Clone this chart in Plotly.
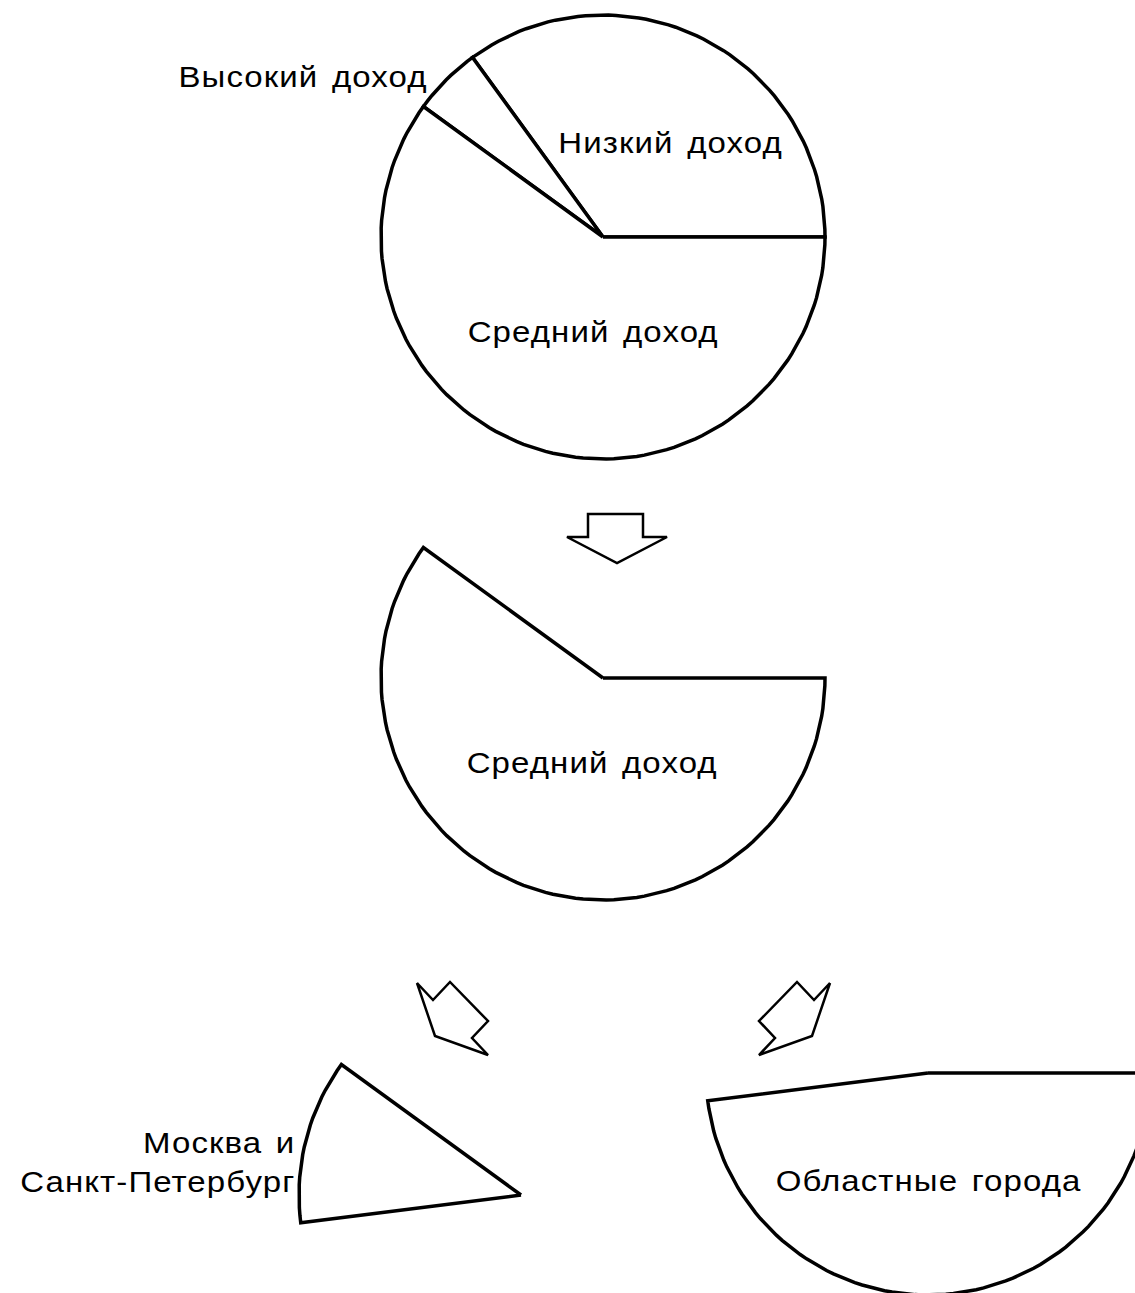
import math
import plotly.graph_objects as go

# ---------------- data ----------------
income_groups = ["Низкий доход", "Высокий доход", "Средний доход"]
income_shares = [35, 5, 60]                 # % of households
middle_groups = ["Москва и<br>Санкт-Петербург", "Областные города"]
middle_shares = [12, 48]                    # split of "Средний доход", % of households

# ---------------- layout geometry (pixels) ----------------
W, H = 1135, 1293
R = 222
TOP_C = (603, 237)      # full pie
MID_C = (603, 678)      # middle-income slice alone
MSK_C = (521, 1195)     # Moscow & St Petersburg piece
REG_C = (928, 1073)     # regional cities piece
DEG_PER_PCT = 360 / 100

LINE_W = 3.5
FONT = dict(family="Liberation Sans, Arial, sans-serif", size=30, color="black")
TEXT_STRETCH = 1.1      # the original labels are horizontally widened


def wedge(c, r, a0, a1, step=2.0):
    n = max(2, int(abs(a1 - a0) / step) + 1)
    xs, ys = [c[0]], [c[1]]
    for i in range(n + 1):
        a = math.radians(a0 + (a1 - a0) * i / n)
        xs.append(c[0] + r * math.cos(a))
        ys.append(c[1] - r * math.sin(a))
    xs.append(c[0])
    ys.append(c[1])
    return xs, ys


def add_wedge(fig, c, a0, a1):
    xs, ys = wedge(c, R, a0, a1)
    fig.add_trace(go.Scatter(x=xs, y=ys, mode="lines", fill="toself",
                             fillcolor="white",
                             line=dict(color="black", width=LINE_W),
                             hoverinfo="skip", showlegend=False))


fig = go.Figure()

# cumulative angles of the income pie
bounds = [0]
for s in income_shares:
    bounds.append(bounds[-1] + s * DEG_PER_PCT)

# top: full pie
for i in range(len(income_shares)):
    add_wedge(fig, TOP_C, bounds[i], bounds[i + 1])

# middle: only the middle-income slice
mid_a0, mid_a1 = bounds[2], bounds[3]
add_wedge(fig, MID_C, mid_a0, mid_a1)

# bottom: middle-income slice split into two pieces
split = mid_a0 + middle_shares[0] * DEG_PER_PCT
add_wedge(fig, MSK_C, mid_a0, split)
add_wedge(fig, REG_C, split, mid_a0 + (middle_shares[0] + middle_shares[1]) * DEG_PER_PCT)

# ---------------- block arrows (decoration) ----------------
down_arrow = [(588, 514), (643, 514), (643, 537), (667, 537), (617, 563), (567, 537), (588, 537)]
left_arrow = [(417, 983), (433, 1000), (450, 982), (488, 1021), (472, 1038), (488, 1055), (435, 1036)]
MIRROR_X = 623.5
right_arrow = [(2 * MIRROR_X - x, y) for x, y in left_arrow]


def path(pts):
    return "M " + " L ".join(f"{x},{y}" for x, y in pts) + " Z"


shapes = [dict(type="path", xref="x", yref="y", path=path(p), fillcolor="white",
               line=dict(color="black", width=2.5))
          for p in (down_arrow, left_arrow, right_arrow)]

# ---------------- labels ----------------
annotations = [
    dict(text=income_groups[1], x=430, y=76, xanchor="right", align="right"),
    dict(text=income_groups[0], x=670, y=142, xanchor="center"),
    dict(text=income_groups[2], x=593, y=331, xanchor="center"),
    dict(text=income_groups[2], x=592, y=762, xanchor="center"),
    dict(text=middle_groups[0], x=297, y=1162, xanchor="right", align="right"),
    dict(text=middle_groups[1], x=928, y=1180, xanchor="center"),
]
for a in annotations:
    a.update(xref="x", yref="y", yanchor="middle", showarrow=False, font=FONT)

fig.update_layout(
    width=W, height=H,
    margin=dict(l=0, r=0, t=0, b=0),
    paper_bgcolor="white", plot_bgcolor="white",
    xaxis=dict(range=[0, W], visible=False, fixedrange=True),
    yaxis=dict(range=[H, 0], visible=False, fixedrange=True),
    shapes=shapes, annotations=annotations, showlegend=False,
)

css = ("body{margin:0;overflow:hidden}"
       ".annotation-text{letter-spacing:1px;word-spacing:3px;"
       "transform-box:fill-box;transform-origin:center;"
       f"transform:scaleX({TEXT_STRETCH})}}"
       ".annotation[data-index='0'] .annotation-text,"
       ".annotation[data-index='4'] .annotation-text{transform-origin:right center}")
post = ("document.body.style.margin='0';"
        "var s=document.createElement('style');"
        f"s.textContent=\"{css}\";"
        "document.head.appendChild(s);")
fig.write_html("out.html", config={"displayModeBar": False}, post_script=post)
